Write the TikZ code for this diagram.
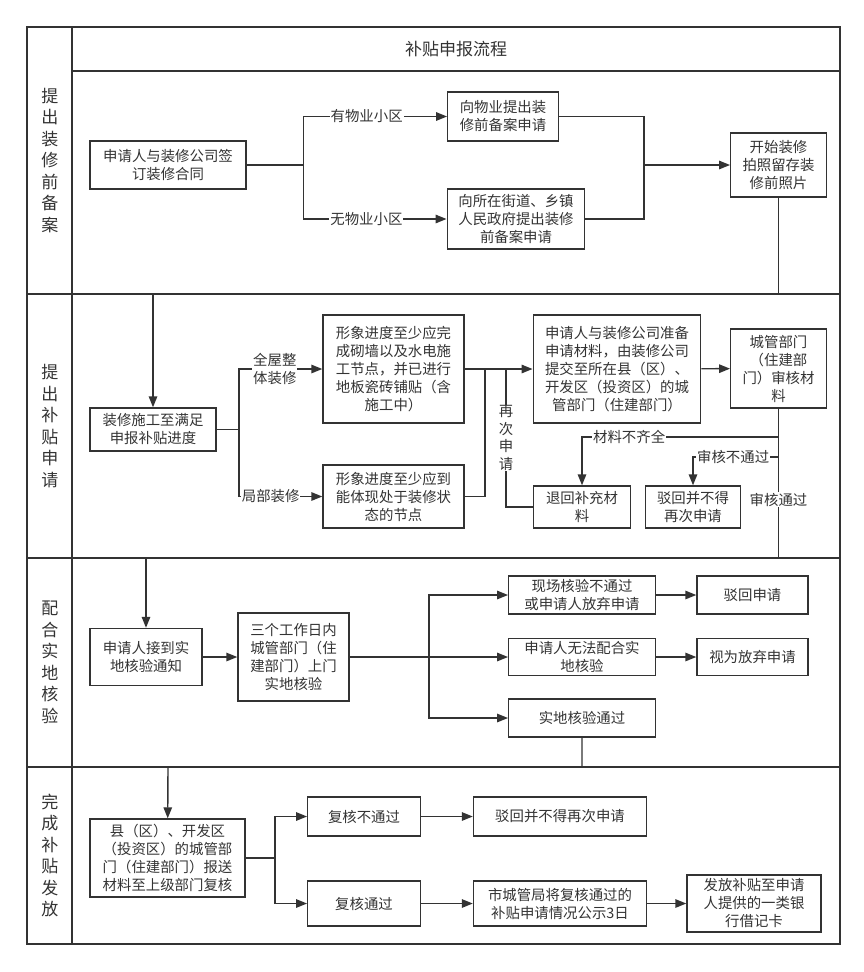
\documentclass[tikz,border=0pt]{standalone}
\usepackage{fontspec}
\setmainfont{Noto Sans CJK SC}
\usetikzlibrary{arrows.meta,positioning}

\begin{document}
\begin{tikzpicture}[x=1pt,y=-1pt,>={Triangle[length=11pt,width=8.5pt]},line width=1.4pt,color=black!80,
  wh/.style n args={2}{minimum width=#1pt,minimum height=#2pt}]
  \tikzstyle{box}=[draw,align=center,inner sep=0pt,font=\fontsize{14.4}{18}\selectfont]
  \tikzstyle{lbl}=[fill=white,inner sep=1pt,align=center,font=\fontsize{14.4}{18}\selectfont]
  \tikzstyle{lane}=[align=center,inner sep=0pt,font=\fontsize{17}{21.5}\selectfont]
  \tikzstyle{frame}=[line width=1.7pt]

  \useasboundingbox (0,0) rectangle (864,972);

  % swimlanes
  \draw[frame] (27,27) rectangle (840,944);
  \draw[frame] (72,27) -- (72,944);
  \draw[frame] (72,71) -- (840,71);
  \draw[frame] (27,294) -- (840,294);
  \draw[frame] (27,558) -- (840,558);
  \draw[frame] (27,767) -- (840,767);

  \node[font=\fontsize{17}{20}\selectfont] (title) at (456,49) {补贴申报流程};
  \node[lane] (l1) at (50,160.5) {提\\出\\装\\修\\前\\备\\案};
  \node[lane] (l2) at (50,426) {提\\出\\补\\贴\\申\\请};
  \node[lane] (l3) at (50,662.5) {配\\合\\实\\地\\核\\验};
  \node[lane] (l4) at (50,855.5) {完\\成\\补\\贴\\发\\放};

  % lane 1
  \node[box,wh={156}{48}]    (hetong)  at (168,165)   {申请人与装修公司签\\订装修合同};
  \node[box,wh={110.5}{49}]  (wuye)    at (503,116.5) {向物业提出装\\修前备案申请};
  \node[box,wh={137.5}{60}]  (jiedao)  at (516,219)   {向所在街道、乡镇\\人民政府提出装修\\前备案申请};
  \node[box,wh={95.5}{64}]   (kaigong) at (778.5,165) {开始装修\\拍照留存装\\修前照片};

  % lane 2
  \node[box,wh={126}{43}]    (shigong)   at (153,429.5)   {装修施工至满足\\申报补贴进度};
  \node[box,wh={141}{108}]   (zhengti)   at (393.5,369)   {形象进度至少应完\\成砌墙以及水电施\\工节点，并已进行\\地板瓷砖铺贴（含\\施工中）};
  \node[box,wh={141}{63}]    (jubu)      at (393.5,496.5) {形象进度至少应到\\能体现处于装修状\\态的节点};
  \node[box,wh={167.5}{108}] (cailiao)   at (617,369)     {申请人与装修公司准备\\申请材料，由装修公司\\提交至所在县（区）、\\开发区（投资区）的城\\管部门（住建部门）};
  \node[box,wh={95.5}{79}]   (chengguan) at (778.5,368.5) {城管部门\\（住建部\\门）审核材\\料};
  \node[box,wh={96.5}{42}]   (tuihui)    at (582,507)     {退回补充材\\料};
  \node[box,wh={95}{42}]     (bohui)     at (693,507)     {驳回并不得\\再次申请};

  % lane 3
  \node[box,wh={112}{57}]    (tongzhi)  at (146,657)   {申请人接到实\\地核验通知};
  \node[box,wh={111}{88}]    (shangmen) at (293.5,657) {三个工作日内\\城管部门（住\\建部门）上门\\实地核验};
  \node[box,wh={146.5}{38}]  (buguo)    at (582,595)   {现场核验不通过\\或申请人放弃申请};
  \node[box,wh={146.5}{37}]  (wufa)     at (582,657)   {申请人无法配合实\\地核验};
  \node[box,wh={146.5}{38}]  (tongguo)  at (582,718)   {实地核验通过};
  \node[box,wh={111}{38}]    (bohui2)   at (752.5,595) {驳回申请};
  \node[box,wh={111}{37}]    (fangqi)   at (752.5,657) {视为放弃申请};

  % lane 4
  \node[box,wh={155}{78}]    (baosong) at (167.5,858) {县（区）、开发区\\（投资区）的城管部\\门（住建部门）报送\\材料至上级部门复核};
  \node[box,wh={112.5}{39}]  (fubu)    at (364,816.5) {复核不通过};
  \node[box,wh={112.5}{45}]  (futong)  at (364,903.5) {复核通过};
  \node[box,wh={173}{39}]    (bohui3)  at (560,816.5) {驳回并不得再次申请};
  \node[box,wh={173}{45}]    (gongshi) at (560,903.5) {市城管局将复核通过的\\补贴申请情况公示3日};
  \node[box,wh={134}{57}]    (fafang)  at (754,903.5) {发放补贴至申请\\人提供的一类银\\行借记卡};

  % lane 1 connectors
  \coordinate (f1) at (303.5,165);
  \coordinate (m1) at (644,165);
  \draw (hetong) -- (f1);
  \draw[->] (f1) |- node[lbl,pos=.72]{有物业小区} (wuye);
  \draw[->] (f1) |- node[lbl,pos=.72]{无物业小区} (jiedao);
  \draw (wuye) -| (m1);
  \draw (jiedao) -| (m1);
  \draw[->] (m1) -- (kaigong);
  \coordinate (d1) at (153,294);
  \draw[->] (kaigong) |- (d1) -- (shigong);

  % lane 2 connectors
  \coordinate (f2) at (239,429.5);
  \coordinate (m2) at (485,369);
  \coordinate (zc) at (506,369);
  \draw (shigong) -- (f2);
  \draw[->] (f2) |- node[lbl,pos=.715]{全屋整\\体装修} (zhengti);
  \draw[->] (f2) |- node[lbl,pos=.69]{局部装修} (jubu);
  \draw (zhengti) -- (m2);
  \draw (jubu) -| (m2);
  \draw[->] (m2) -- (cailiao);
  \draw[->] (cailiao) -- (chengguan);
  \draw (tuihui) -| node[lbl,pos=.75,font=\fontsize{14.4}{17.5}\selectfont]{再\\次\\申\\请} (zc);
  \coordinate (c1) at (778.5,437);
  \coordinate (c2) at (778.5,457);
  \draw[->] (c1) -| node[lbl,pos=.38]{材料不齐全} (tuihui);
  \draw[->] (c2) -| node[lbl,pos=.265]{审核不通过} (bohui);
  \coordinate (d2) at (146,558);
  \draw[->] (chengguan) |- node[lbl,pos=.305]{审核通过} (d2) -- (tongzhi);

  % lane 3 connectors
  \coordinate (f3) at (429,657);
  \draw[->] (tongzhi) -- (shangmen);
  \draw (shangmen) -- (f3);
  \draw[->] (f3) |- (buguo);
  \draw[->] (f3) -- (wufa);
  \draw[->] (f3) |- (tongguo);
  \draw[->] (buguo) -- (bohui2);
  \draw[->] (wufa) -- (fangqi);
  \coordinate (d3) at (168,767);
  \draw[->] (tongguo) |- (d3) -- (baosong);

  % lane 4 connectors
  \coordinate (f4) at (275,858);
  \draw (baosong) -- (f4);
  \draw[->] (f4) |- (fubu);
  \draw[->] (f4) |- (futong);
  \draw[->] (fubu) -- (bohui3);
  \draw[->] (futong) -- (gongshi);
  \draw[->] (gongshi) -- (fafang);
\end{tikzpicture}
\end{document}
